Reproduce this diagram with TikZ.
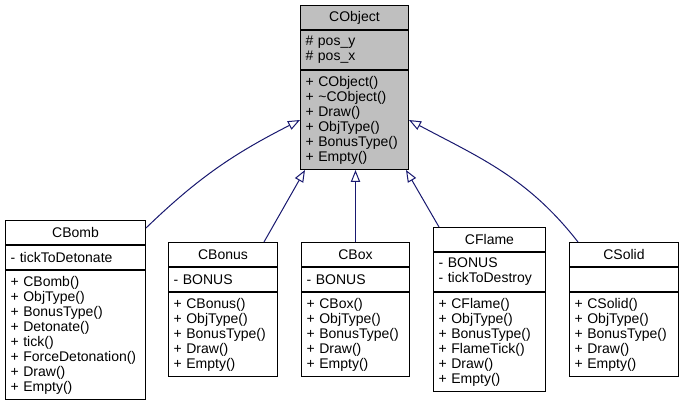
\documentclass[tikz,border=0pt]{standalone}
\usepackage{fontspec}
\setmainfont{Liberation Sans}
\usetikzlibrary{arrows.meta,positioning}
\definecolor{edgeblue}{HTML}{191970}
\definecolor{basefill}{HTML}{BFBFBF}

\tikzset{
  part/.style={draw=black, fill=white, line width=0.75pt, inner xsep=3.75pt, inner ysep=1pt,
    align=left, font=\fontsize{10.5}{11.25}\selectfont, minimum height={(15*#1+9)*0.75pt}},
  head/.style={part=1, align=center, anchor=north west},
  inherit/.style={draw=edgeblue, line width=0.75pt, -{Triangle[open, length=9pt, width=7pt]}},
}

\begin{document}
\begin{tikzpicture}[x=0.75pt, y=0.75pt]
      \fill[white] (0,0) rectangle (683,404);

      % base class
      \node[head, fill=basefill, text width=73.5pt] (obj) at (300,399) {CObject};
      \node[part=2, fill=basefill, text width=73.5pt, below=0pt of obj] (obj-attr) {\# pos\_y\\\# pos\_x};
      \node[part=6, fill=basefill, text width=73.5pt, below=0pt of obj-attr] (obj-ops)
        {+ CObject()\\+ \textasciitilde CObject()\\+ Draw()\\+ ObjType()\\+ BonusType()\\+ Empty()};

      % derived classes
      \node[head, text width=97.5pt] (bomb) at (5,184) {CBomb};
      \node[part=1, text width=97.5pt, below=0pt of bomb] (bomb-attr) {- tickToDetonate};
      \node[part=8, text width=97.5pt, below=0pt of bomb-attr] (bomb-ops)
        {+ CBomb()\\+ ObjType()\\+ BonusType()\\+ Detonate()\\+ tick()\\+ ForceDetonation()\\+ Draw()\\+ Empty()};

      \node[head, text width=74.25pt] (bonus) at (168,162) {CBonus};
      \node[part=1, text width=74.25pt, below=0pt of bonus] (bonus-attr) {- BONUS};
      \node[part=5, text width=74.25pt, below=0pt of bonus-attr] (bonus-ops)
        {+ CBonus()\\+ ObjType()\\+ BonusType()\\+ Draw()\\+ Empty()};

      \node[head, text width=73.5pt] (box) at (301,162) {CBox};
      \node[part=1, text width=73.5pt, below=0pt of box] (box-attr) {- BONUS};
      \node[part=5, text width=73.5pt, below=0pt of box-attr] (box-ops)
        {+ CBox()\\+ ObjType()\\+ BonusType()\\+ Draw()\\+ Empty()};

      \node[head, text width=76.5pt] (flame) at (433,177) {CFlame};
      \node[part=2, text width=76.5pt, below=0pt of flame] (flame-attr) {- BONUS\\- tickToDestroy};
      \node[part=6, text width=76.5pt, below=0pt of flame-attr] (flame-ops)
        {+ CFlame()\\+ ObjType()\\+ BonusType()\\+ FlameTick()\\+ Draw()\\+ Empty()};

      \node[head, text width=74.25pt] (solid) at (569,162) {CSolid};
      \node[part=1, text width=74.25pt, below=0pt of solid] (solid-attr) {};
      \node[part=5, text width=74.25pt, below=0pt of solid-attr] (solid-ops)
        {+ CSolid()\\+ ObjType()\\+ BonusType()\\+ Draw()\\+ Empty()};

      % inheritance
      \draw[inherit] ([yshift=-6pt]bomb.north east) to[out=44, in=207] (obj-ops.west);
      \draw[inherit] ([xshift=-10.5pt]bonus.north east) -- ([xshift=3.75pt]obj-ops.south west);
      \draw[inherit] (box.north) -- (box.north |- obj-ops.south);
      \draw[inherit] ([xshift=4.5pt]flame.north west) -- ([xshift=-2.25pt]obj-ops.south east);
      \draw[inherit] ([xshift=6.75pt]solid.north west) to[out=128, in=-28] (obj-ops.east);
    \end{tikzpicture}
\end{document}
